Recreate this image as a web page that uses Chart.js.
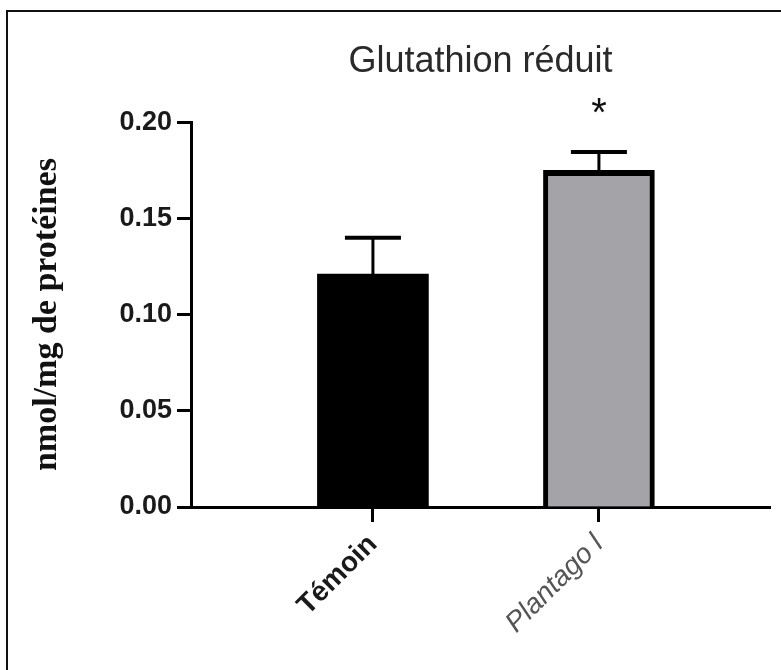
<!DOCTYPE html>
<html>
<head>
<meta charset="utf-8">
<script src="https://cdn.jsdelivr.net/npm/chart.js@4"></script>
<style>
  html, body { margin: 0; padding: 0; background: #fff; overflow: hidden; }
  #frame { position: absolute; left: 6px; top: 10px; width: 800px; height: 700px; border: 2px solid #111; }
  #chart { position: absolute; left: 0; top: 0; }
</style>
</head>
<body>
<div id="frame"></div>
<canvas id="chart" width="781" height="670"></canvas>
<script>
// data
const categories = ['Témoin', 'Plantago l'];
const means = [0.121, 0.175];
const sem = [0.019, 0.0095];
const signif = ['', '*'];
const yTicks = [0, 0.05, 0.10, 0.15, 0.20];

const barColors = ['#000000', '#a4a3a8'];

// error bars + significance stars, drawn through the scales
const errorBars = {
  id: 'errorBars',
  afterDatasetsDraw(chart) {
    const ctx = chart.ctx;
    const xs = chart.scales.x, ys = chart.scales.y;
    ctx.save();
    ctx.strokeStyle = '#000';
    means.forEach((m, i) => {
      const x = xs.getPixelForValue(i);
      const yBar = ys.getPixelForValue(m);
      const yTop = ys.getPixelForValue(m + sem[i]);
      ctx.lineWidth = 3;
      ctx.beginPath();
      ctx.moveTo(x, yBar);
      ctx.lineTo(x, yTop);
      ctx.stroke();
      ctx.lineWidth = 4;
      ctx.beginPath();
      ctx.moveTo(x - 28, yTop);
      ctx.lineTo(x + 28, yTop);
      ctx.stroke();
      if (signif[i]) {
        ctx.fillStyle = '#111';
        ctx.font = '40px "Liberation Sans", Arial, sans-serif';
        ctx.textAlign = 'center';
        ctx.textBaseline = 'alphabetic';
        ctx.fillText(signif[i], x, yTop - 26);
      }
    });
    ctx.restore();
  }
};

new Chart(document.getElementById('chart').getContext('2d'), {
  type: 'bar',
  data: {
    datasets: [{
      data: means.map((v, i) => ({ x: i, y: v })),
      backgroundColor: barColors,
      borderColor: '#000',
      borderWidth: (c) => c.dataIndex === 1 ? { top: 6, left: 5, right: 5, bottom: 0 } : 0,
      borderSkipped: 'start',
      barThickness: 111
    }]
  },
  options: {
    responsive: false,
    animation: false,
    layout: { padding: { left: 0, right: 11, top: 0, bottom: 0 } },
    plugins: {
      legend: { display: false },
      tooltip: { enabled: false },
      title: {
        display: true,
        text: 'Glutathion réduit',
        fullSize: false,
        color: '#2a2a2a',
        font: { family: '"Liberation Sans", Arial, sans-serif', size: 36, weight: 'normal' },
        padding: { top: 40, bottom: 39 }
      }
    },
    scales: {
      x: {
        type: 'linear',
        offset: false,
        min: -0.805,
        max: 1.757,
        afterBuildTicks: (axis) => { axis.ticks = categories.map((c, i) => ({ value: i })); },
        afterFit: (axis) => { axis.height = 163; },
        grid: { display: true, offset: false, drawOnChartArea: false, drawTicks: true, tickLength: 15, tickWidth: 3, tickColor: '#000' },
        border: { display: true, color: '#000', width: 3 },
        ticks: {
          autoSkip: false,
          minRotation: 45,
          maxRotation: 45,
          padding: 6,
          callback: (v) => categories[v],
          color: (c) => c.index === 0 ? '#1a1a1a' : '#555',
          font: (c) => c.index === 0
            ? { family: '"Liberation Sans", Arial, sans-serif', size: 28, weight: 'bold' }
            : { family: '"Liberation Sans", Arial, sans-serif', size: 28, style: 'italic', weight: 'normal' }
        }
      },
      y: {
        min: 0,
        max: 0.2,
        afterBuildTicks: (axis) => { axis.ticks = yTicks.map(v => ({ value: v })); },
        afterFit: (axis) => { axis.width = 191; },
        grid: { display: true, drawOnChartArea: false, drawTicks: true, tickLength: 14, tickWidth: 3, tickColor: '#000' },
        border: { display: true, color: '#000', width: 3 },
        ticks: {
          padding: 5,
          color: '#1a1a1a',
          callback: (v) => v.toFixed(2),
          font: { family: '"Liberation Sans", Arial, sans-serif', size: 27, weight: 'bold' }
        },
        title: {
          display: true,
          text: 'nmol/mg de protéines',
          color: '#111',
          padding: { top: 27, bottom: 0 },
          font: { family: '"Liberation Serif", "Times New Roman", serif', size: 34, weight: 'bold' }
        }
      }
    }
  },
  plugins: [errorBars]
});
</script>
</body>
</html>
